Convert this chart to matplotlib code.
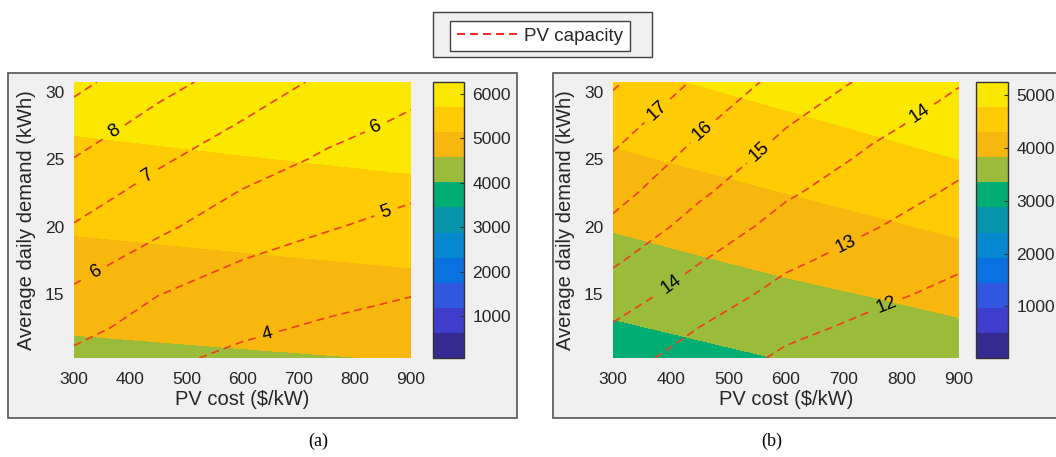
import numpy as np
import matplotlib
matplotlib.use("Agg")
import matplotlib.pyplot as plt
from matplotlib.colors import ListedColormap, BoundaryNorm
from matplotlib.lines import Line2D
from matplotlib.patches import Rectangle

plt.rcParams['font.family'] = ['Liberation Sans', 'DejaVu Sans']

W, H = 1056, 457

# grid
PV_COST = [300, 450, 600, 750, 900]
DEMAND_COST = [10.25, 15, 20, 25, 30.75]
DEMAND_CAP = [10.25, 12.5, 15, 17.5, 20, 22.5, 25, 27.5, 30.75]

# (a) cost field (rows = demand, cols = PV cost)
COST_A = [[4442, 4479, 4517, 4554, 4591],
          [4805, 4848, 4892, 4935, 4978],
          [5184, 5233, 5282, 5331, 5380],
          [5562, 5617, 5673, 5728, 5783],
          [5998, 6060, 6122, 6184, 6246]]
# (a) PV capacity (kW)
CAP_A = [[4.78, 4.19, 3.80, 3.53, 3.35],
         [5.32, 4.58, 4.17, 3.88, 3.67],
         [5.84, 5.02, 4.58, 4.28, 4.03],
         [6.39, 5.62, 4.99, 4.67, 4.39],
         [6.94, 6.18, 5.46, 5.06, 4.75],
         [7.45, 6.65, 5.94, 5.47, 5.11],
         [7.97, 7.14, 6.43, 5.87, 5.47],
         [8.52, 7.64, 6.92, 6.28, 5.83],
         [9.25, 8.33, 7.56, 6.81, 6.30]]

# (b) cost field
COST_B = [[3139, 3251, 3367, 3483, 3595],
          [3490, 3610, 3734, 3843, 3961],
          [3856, 3985, 4112, 4236, 4370],
          [4234, 4362, 4493, 4631, 4777],
          [4661, 4797, 4938, 5087, 5244]]
# (b) PV capacity
CAP_B = [[13.40, 12.58, 11.83, 11.40, 11.02],
         [13.90, 12.99, 12.24, 11.78, 11.38],
         [14.52, 13.51, 12.71, 12.21, 11.77],
         [15.14, 14.05, 13.17, 12.63, 12.15],
         [15.78, 14.60, 13.65, 13.05, 12.51],
         [16.34, 15.14, 14.12, 13.43, 12.86],
         [16.87, 15.62, 14.58, 13.81, 13.22],
         [17.42, 16.12, 15.03, 14.22, 13.58],
         [18.14, 16.84, 15.64, 14.80, 14.06]]

CB_A = (67, 6261)
CB_B = (24, 5252)
CB_TICKS_A = [1000, 2000, 3000, 4000, 5000, 6000]
CB_TICKS_B = [1000, 2000, 3000, 4000, 5000]
CAP_LEVELS_A = [4, 5, 6, 7, 8, 9]
CAP_LEVELS_B = [12, 13, 14, 15, 16, 17, 18]
LABELS_A = [(373, 27.0), (430, 23.9), (340, 16.6), (837, 27.5), (857, 20.95), (643, 12.15)]
LABELS_B = [(376, 28.65), (456, 27.1), (552, 25.7), (399, 15.8), (830, 28.5), (703, 18.8), (774, 14.2)]

PARULA11 = ['#352a8f', '#3f3dcb', '#2f57e0', '#0a72e0', '#0787d0', '#0895ac',
            '#00ad72', '#9bbb3a', '#f7b70f', '#fecb05', '#fce700']
cmap = ListedColormap(PARULA11)
LINE_RED = '#f0401e'
DASH = (0, (4.8, 3))
TXT = '#262626'

fig = plt.figure(figsize=(W / 100, H / 100), dpi=100)
fig.patch.set_facecolor('white')


def box(x0, y0, x1, y1, fc, ec, lw=1.2, z=-5):
    r = Rectangle((x0 / W, 1 - y1 / H), (x1 - x0) / W, (y1 - y0) / H,
                  transform=fig.transFigure, facecolor=fc, edgecolor=ec,
                  linewidth=lw, zorder=z)
    fig.add_artist(r)


box(8, 73, 517, 418, '#f0f0f0', '#555555')
box(553, 73, 1070, 418, '#f0f0f0', '#555555')


def panel(ax_rect, cax_rect, cost, cap, cb, cb_ticks, cap_levels, lab_pos):
    ax = fig.add_axes([ax_rect[0] / W, 1 - ax_rect[3] / H,
                       (ax_rect[2] - ax_rect[0]) / W, (ax_rect[3] - ax_rect[1]) / H])
    cax = fig.add_axes([cax_rect[0] / W, 1 - cax_rect[3] / H,
                        (cax_rect[2] - cax_rect[0]) / W, (cax_rect[3] - cax_rect[1]) / H])
    levels = np.linspace(cb[0], cb[1], 12)
    norm = BoundaryNorm(levels, 11)
    cf = ax.contourf(PV_COST, DEMAND_COST, cost, levels=levels, cmap=cmap, norm=norm)
    cs = ax.contour(PV_COST, DEMAND_CAP, cap, levels=cap_levels, colors=LINE_RED,
                    linestyles=[DASH], linewidths=1.2)
    ax.clabel(cs, manual=lab_pos, inline=True, inline_spacing=7, fmt='%d',
              fontsize=13.5, colors='black')
    ax.set_xlim(300, 900)
    ax.set_ylim(10.25, 30.75)
    ax.set_xticks([300, 400, 500, 600, 700, 800, 900])
    ax.set_yticks([15, 20, 25, 30])
    for s in ax.spines.values():
        s.set_visible(False)
    ax.tick_params(axis='x', length=0, pad=10, labelsize=12.5, labelcolor=TXT)
    ax.tick_params(axis='y', length=0, pad=7, labelsize=12.5, labelcolor=TXT)
    ax.set_xlabel('PV cost ($/kW)', fontsize=14.5, color=TXT, labelpad=2)
    ax.set_ylabel('Average daily demand (kWh)', fontsize=14.5, color=TXT, labelpad=6)

    cbar = fig.colorbar(cf, cax=cax, ticks=cb_ticks)
    cbar.minorticks_off()
    cbar.outline.set_edgecolor('#333333')
    cbar.outline.set_linewidth(1.0)
    cax.tick_params(direction='in', length=3, width=0.8, color='#333333',
                    labelsize=12.5, labelcolor=TXT, pad=6)
    return ax


panel((74, 82, 411, 358), (433, 82, 464, 358), COST_A, CAP_A, CB_A, CB_TICKS_A,
      CAP_LEVELS_A, LABELS_A)
panel((613, 82, 959, 358), (976, 82, 1008, 358), COST_B, CAP_B, CB_B, CB_TICKS_B,
      CAP_LEVELS_B, LABELS_B)

# legend
box(433, 12, 652, 57, '#f0f0f0', '#404040', lw=1.0)
handle = Line2D([], [], color='red', linestyle=DASH, linewidth=1.2)
leg = fig.legend([handle], ['PV capacity'], loc='center',
                 bbox_to_anchor=(540 / W, 1 - 36 / H), fontsize=13.5,
                 handlelength=3.3, handletextpad=0.3, borderpad=0.35,
                 borderaxespad=0, fancybox=False, framealpha=1,
                 edgecolor='#404040', facecolor='white')
leg.get_frame().set_linewidth(1.0)
for t in leg.get_texts():
    t.set_color(TXT)

fig.text(318 / W, 1 - 441 / H, '(a)', family=['Liberation Serif', 'DejaVu Serif'],
         fontsize=13, ha='center', va='center')
fig.text(772 / W, 1 - 441 / H, '(b)', family=['Liberation Serif', 'DejaVu Serif'],
         fontsize=13, ha='center', va='center')

fig.savefig('out.png', dpi=100)
